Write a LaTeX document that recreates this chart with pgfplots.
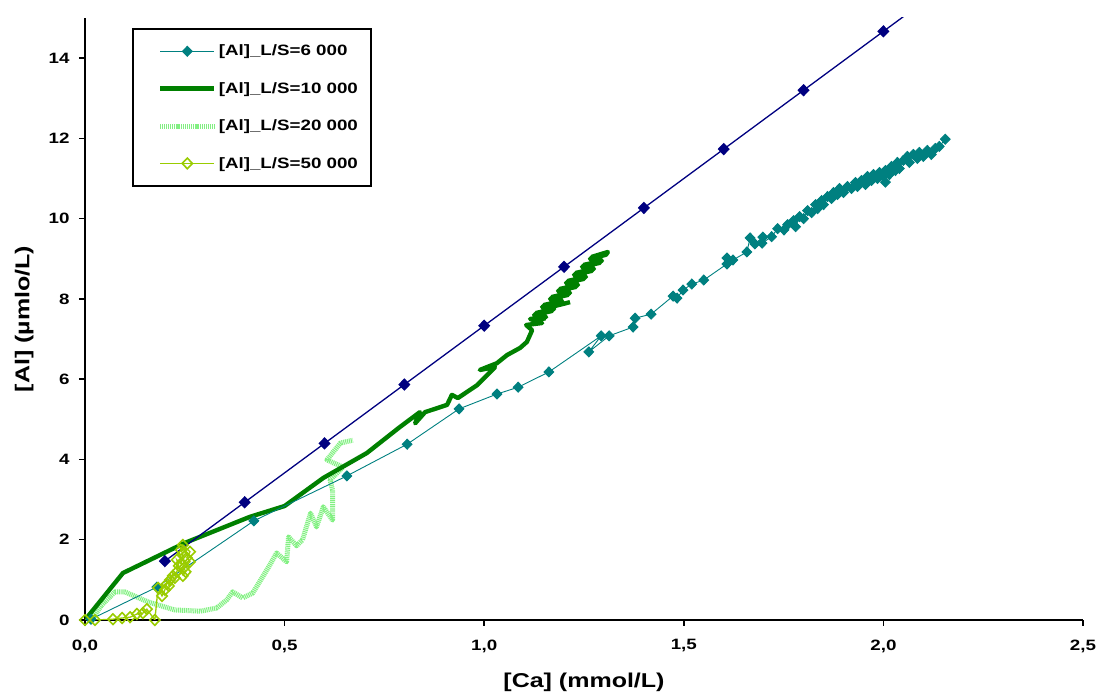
\documentclass[border=0pt]{standalone}
\usepackage{fontspec}
\setmainfont{Liberation Sans}[FakeStretch=1.25]
\usepackage{pgfplots}
\pgfplotsset{compat=1.18}
\definecolor{navyc}{RGB}{0,0,128}
\definecolor{tealc}{RGB}{0,128,128}
\definecolor{dgreen}{RGB}{0,128,0}
\definecolor{lgreen}{RGB}{130,240,130}
\definecolor{ygreen}{RGB}{153,204,0}
\pgfplotsset{
  s6000/.style={color=tealc, line width=0.9pt, mark=diamond*, mark size=5pt, mark options={xscale=1.3, solid, fill=tealc}},
  s10000/.style={color=dgreen, line width=4.4pt, no markers, line join=round},
  s20000/.style={color=lgreen, line width=5pt, no markers, dash pattern=on 1.1pt off 0.8pt, line join=round},
  s50000/.style={color=ygreen, line width=1.3pt, mark=diamond, mark size=5.3pt, mark options={xscale=1.3, solid, fill=white, line width=1.6pt}},
  snavy/.style={color=navyc, line width=1.3pt, mark=diamond*, mark size=5.3pt, mark options={xscale=1.3, fill=navyc}},
}
\begin{document}
\begin{tikzpicture}
\begin{axis}[
  scale only axis, width=998pt, height=602pt,
  xmin=0, xmax=2.5, ymin=0, ymax=15,
  axis x line=bottom, axis y line=left,
  axis line style={line width=2.4pt, -},
  xtick={0,0.5,1,1.5,2,2.5},
  xticklabels={{0,0},{0,5},{1,0},{1,5},{2,0},{2,5}},
  ytick={0,2,4,6,8,10,12,14},
  tick align=outside, major tick length=6pt,
  tick style={black, line width=1.5pt},
  /pgf/number format/assume math mode=true,
  ticklabel style={font=\fontsize{15}{17}\selectfont\bfseries},
  xticklabel style={yshift=-10pt},
  yticklabel style={xshift=-6pt},
  xlabel={[Ca] (mmol/L)},
  ylabel={[Al] (µmlo/L)},
  label style={font=\fontsize{20}{22}\selectfont\bfseries},
  xlabel style={at={(axis description cs:0.5,-0.103)}, anchor=center},
  ylabel style={at={(axis description cs:-0.061,0.5)}, anchor=center},
  clip=true,
  legend style={at={(axis description cs:0.047,0.983)}, anchor=north west,
    draw=black, line width=1.8pt, fill=white,
    font=\fontsize{15}{17}\selectfont\bfseries,
    inner xsep=11pt, inner ysep=14pt, row sep=21pt},
  legend cell align=left,
  legend image code/.code={
    \path (-14pt,0pt);
    \draw[mark repeat=2, mark phase=2] plot coordinates {(0pt,0pt) (27pt,0pt) (54pt,0pt)};
  },
]
% 20 000 (light green textured)
\addplot[s20000, forget plot] coordinates {
(0.02,0.05) (0.04,0.35) (0.075,0.70) (0.10,0.70) (0.158,0.45) (0.225,0.25)
(0.29,0.22) (0.33,0.30) (0.355,0.50) (0.37,0.70) (0.395,0.55) (0.42,0.67)
(0.46,1.32) (0.48,1.67) (0.505,1.45) (0.51,2.07) (0.53,1.85) (0.545,2.00) (0.565,2.66)
(0.58,2.32) (0.597,2.82) (0.62,2.49) (0.62,3.24) (0.614,3.49) (0.646,3.81)
(0.606,3.99) (0.64,4.41) (0.671,4.48)
};
% 10 000 (dark green thick)
\addplot[s10000, forget plot] coordinates {
(0,0) (0.095,1.17) (0.25,1.92) (0.413,2.57) (0.50,2.84) (0.597,3.54)
(0.706,4.16) (0.789,4.81) (0.839,5.18) (0.827,4.90) (0.852,5.18) (0.907,5.36)
(0.919,5.61) (0.934,5.53) (0.982,5.85) (1.027,6.30) (0.989,6.23) (1.032,6.40)
(1.057,6.60) (1.09,6.78) (1.107,6.93) (1.12,7.22)
(1.105,7.35) (1.145,7.40) (1.115,7.50) (1.155,7.55) (1.13,7.65) (1.175,7.75)
(1.15,7.85) (1.195,7.95) (1.17,8.05) (1.215,8.15) (1.19,8.25) (1.235,8.35)
(1.21,8.45) (1.255,8.55) (1.23,8.65) (1.275,8.75) (1.25,8.85) (1.295,8.95)
(1.27,9.05) (1.31,9.17)
(1.305,9.10) (1.265,9.00) (1.29,8.90) (1.245,8.80) (1.27,8.70) (1.225,8.60)
(1.25,8.50) (1.205,8.40) (1.23,8.30) (1.185,8.20) (1.21,8.10) (1.165,8.00)
(1.19,7.90) (1.145,7.80) (1.17,7.70) (1.125,7.60) (1.15,7.50) (1.14,7.65)
(1.16,7.78) (1.215,7.92)
};
% 6 000 (teal)
\addplot[s6000, forget plot] coordinates {
(0.015,0.02) (0.18,0.82) (0.423,2.47) (0.656,3.59) (0.807,4.38) (0.937,5.26)
(1.032,5.63) (1.085,5.80) (1.162,6.18) (1.293,7.08) (1.262,6.68) (1.313,7.08)
(1.373,7.30) (1.378,7.52) (1.418,7.62) (1.473,8.07) (1.483,8.02) (1.498,8.22)
(1.52,8.37) (1.55,8.47) (1.608,8.87) (1.608,9.02) (1.623,8.97) (1.658,9.17)
(1.666,9.52) (1.678,9.37) (1.698,9.54) (1.696,9.39) (1.72,9.55) (1.735,9.75)
(1.751,9.72) (1.76,9.85) (1.775,9.95) (1.78,9.80) (1.79,10.05) (1.80,10.00)
(1.81,10.20) (1.82,10.15) (1.83,10.35) (1.835,10.25) (1.845,10.45) (1.85,10.35)
(1.86,10.55) (1.87,10.50) (1.875,10.65) (1.885,10.60) (1.89,10.75) (1.90,10.65)
(1.91,10.80) (1.92,10.75) (1.93,10.90) (1.935,10.80) (1.945,10.95) (1.955,10.85)
(1.96,11.05) (1.97,10.95) (1.975,11.10) (1.985,11.00) (1.99,11.15) (2.00,11.05)
(2.005,10.91) (2.005,11.20) (2.015,11.10) (2.02,11.30) (2.03,11.20) (2.035,11.40)
(2.04,11.25) (2.05,11.45) (2.06,11.55) (2.065,11.40) (2.075,11.60) (2.085,11.50)
(2.09,11.65) (2.10,11.55) (2.11,11.70) (2.12,11.60) (2.13,11.75) (2.14,11.80)
(2.155,11.98)
};
% reference line (navy)
\addplot[snavy, forget plot] coordinates {
(0.2,1.467) (0.4,2.933) (0.6,4.4) (0.8,5.867) (1.0,7.333) (1.2,8.8)
(1.4,10.267) (1.6,11.733) (1.8,13.2) (2.0,14.667)
};
\addplot[color=navyc, line width=1.3pt, no markers, forget plot] coordinates {
(2.0,14.667) (2.1,15.4)
};
% 50 000 (yellow-green open diamonds)
\addplot[s50000, forget plot] coordinates {
(0,0) (0.025,0) (0.07,0.02) (0.093,0.05) (0.113,0.07) (0.13,0.15)
(0.145,0.17) (0.155,0.27) (0.175,0.0) (0.183,0.80) (0.193,0.60) (0.20,0.75)
(0.205,0.90) (0.213,1.00) (0.21,0.85) (0.22,1.10) (0.23,1.20) (0.225,1.05)
(0.235,1.35) (0.23,1.50) (0.24,1.40) (0.245,1.65) (0.24,1.75) (0.245,1.87)
(0.263,1.70) (0.255,1.55) (0.263,1.45) (0.248,1.30) (0.252,1.20) (0.245,1.10)
};
\addlegendimage{s6000}
\addlegendentry{[Al]\_L/S=6 000}
\addlegendimage{s10000}
\addlegendentry{[Al]\_L/S=10 000}
\addlegendimage{s20000}
\addlegendentry{[Al]\_L/S=20 000}
\addlegendimage{s50000}
\addlegendentry{[Al]\_L/S=50 000}
\end{axis}
\pgfresetboundingbox
\useasboundingbox (-85pt,-75pt) rectangle (1014pt,620pt);
\end{tikzpicture}
\end{document}
